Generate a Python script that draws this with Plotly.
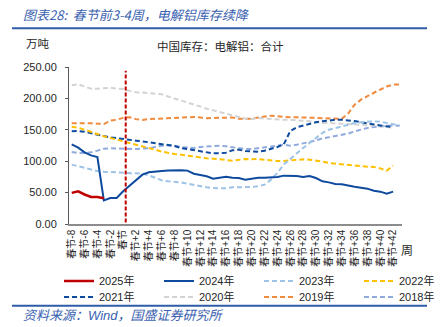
import plotly.graph_objects as go

# Weeks relative to the Spring Festival (0 = 春节 week)
weeks = list(range(-8, 44))
tick_weeks = list(range(-8, 43, 2))
tick_text = ["春节" if w == 0 else f"春节{w:+d}" for w in tick_weeks]

# China electrolytic aluminium inventory, 10k tonnes (万吨)
y2025 = [49.5, 52.0, 47.0, 43.0, 43.0, 41.0]

y2024 = [126.9, 121.5, 114.0, 109.3, 106.7, 37.7, 41.4, 41.4, 52.0, 61.0,
         69.5, 78.6, 82.3, 83.9, 84.4, 85.0, 85.5, 85.5, 85.0, 80.1,
         78.0, 75.9, 72.2, 73.2, 75.4, 73.8, 73.2, 70.6, 72.2, 73.8,
         73.8, 74.3, 74.8, 77.0, 77.0, 76.4, 74.8, 76.4, 73.2, 67.9,
         66.3, 63.7, 63.2, 61.0, 59.4, 57.9, 56.3, 53.0, 51.5, 48.3,
         51.5]

y2023 = [94.5, 91.8, 89.2, 86.5, 84.4, 83.3, 82.8, 82.3, 81.2, 81.2,
         81.2, 80.1, 77.5, 73.2, 69.5, 67.9, 67.4, 66.3, 64.2, 62.1,
         60.0, 58.4, 57.3, 56.8, 56.8, 58.4, 58.4, 58.4, 58.9, 60.0,
         62.6, 70.6, 81.2, 95.0, 104.0, 113.0, 121.0, 129.0, 137.0, 145.0,
         150.0, 153.0, 155.5, 158.0, 160.8, 162.0, 163.0, 163.5, 163.0, 161.0,
         159.0, 157.0]

y2022 = [155.0, 153.4, 150.2, 146.5, 142.8, 139.6, 137.0, 134.3, 132.2, 130.0,
         127.4, 124.7, 121.5, 118.4, 115.2, 113.0, 111.5, 110.4, 108.8, 106.7,
         105.6, 104.6, 104.0, 103.5, 101.9, 100.8, 102.4, 103.5, 103.0, 103.5,
         102.4, 100.8, 100.3, 100.5, 101.4, 102.4, 103.0, 102.4, 101.4, 99.3,
         97.1, 96.0, 95.0, 93.9, 92.9, 91.8, 91.3, 90.8, 88.6, 84.9,
         93.0]

y2021 = [147.6, 148.0, 147.0, 144.4, 142.3, 140.0, 138.0, 136.4, 135.4, 134.3,
         132.7, 131.6, 130.0, 128.5, 126.9, 126.3, 124.2, 121.0, 119.4, 117.8,
         116.2, 114.1, 112.5, 112.5, 113.6, 117.3, 118.4, 116.2, 115.2, 115.2,
         116.8, 119.4, 122.6, 127.0, 148.0, 154.0, 157.0, 159.0, 162.0, 163.5,
         165.0, 166.0, 166.0, 165.5, 164.0, 162.0, 160.0, 158.5, 157.0, 155.5,
         154.0]

y2020 = [221.0, 222.5, 219.0, 215.5, 215.5, 216.6, 217.0, 215.5, 215.0, 212.0,
         209.7, 209.3, 208.6, 208.0, 206.5, 203.0, 200.0, 197.0, 193.7, 190.5,
         187.0, 183.6, 181.0, 178.0, 175.0, 172.5, 170.0, 167.7, 167.0, 169.0,
         167.7, 167.0, 166.0, 166.0, 166.0, 165.5, 164.5, 163.5, 162.4, 160.8,
         160.8, 160.3, 159.8, 159.3, 158.7, 158.0, 157.6, 156.6, 155.5, 154.5,
         153.4]

y2019 = [160.3, 160.5, 161.0, 160.3, 159.8, 159.2, 164.5, 166.0, 169.0, 170.0,
         167.0, 165.6, 167.0, 167.7, 168.3, 168.8, 169.5, 169.5, 170.0, 170.4,
         169.5, 168.3, 168.8, 168.8, 170.0, 169.5, 167.7, 167.0, 167.5, 169.5,
         171.4, 172.5, 171.4, 170.4, 170.0, 170.0, 169.5, 169.0, 168.5, 168.0,
         167.5, 167.0, 167.5, 176.0, 190.0, 198.0, 204.0, 209.0, 214.0, 219.0,
         222.0, 222.0]

y2018 = [114.6, 113.0, 113.0, 114.1, 116.8, 120.0, 120.5, 120.0, 120.0, 119.4,
         119.4, 120.0, 120.5, 122.6, 124.7, 125.3, 124.7, 122.6, 121.5, 121.0,
         122.6, 123.7, 124.7, 124.7, 123.7, 122.0, 120.0, 119.4, 119.4, 120.5,
         122.0, 123.7, 124.7, 126.3, 124.7, 126.3, 128.0, 130.6, 133.2, 136.4,
         138.0, 139.6, 142.3, 144.0, 147.5, 150.5, 153.0, 154.5, 155.5, 156.5,
         157.0, 156.5]

# Week where the Spring Festival divider sits
festival_divider = 0.4

W, H = 442, 327
ML, MR, MT, MB = 69, 40, 67, 103
PW, PH = W - ML - MR, H - MT - MB


def pxx(px):
    return (px - ML) / PW


def pxy(py):
    return (H - MB - py) / PH


LATIN = "Liberation Sans, Arial, Noto Sans CJK SC, sans-serif"
CJK = "Noto Sans CJK SC, sans-serif"
DASH = "5px,3px"

# (label, values, colour, dash, width, legend id, rank); drawn oldest first
series = [
    ("2018年", y2018, "#8FAADC", DASH, 2.0, "legend2", 8),
    ("2019年", y2019, "#F08A3C", DASH, 2.0, "legend2", 7),
    ("2020年", y2020, "#D3D3D3", DASH, 2.0, "legend2", 6),
    ("2021年", y2021, "#0E4A9E", DASH, 2.0, "legend2", 5),
    ("2022年", y2022, "#FFC000", DASH, 2.0, "legend", 4),
    ("2023年", y2023, "#9DC3E6", DASH, 2.0, "legend", 3),
    ("2024年", y2024, "#0E4A9E", "solid", 2.0, "legend", 2),
    ("2025年", y2025, "#C00000", "solid", 2.5, "legend", 1),
]

fig = go.Figure()
for name, vals, color, dash, width, leg, rank in series:
    fig.add_trace(go.Scatter(
        x=weeks[:len(vals)], y=vals, name=name, mode="lines",
        line=dict(color=color, dash=dash, width=width),
        legend=leg, legendrank=rank, hoverinfo="skip",
    ))

fig.add_shape(type="line", xref="x", yref="y",
              x0=festival_divider, x1=festival_divider, y0=2.5, y1=244,
              line=dict(color="#C00000", width=2, dash="4px,2px"))

# Header and footer rules
fig.add_shape(type="line", xref="paper", yref="paper",
              x0=pxx(12), x1=pxx(427), y0=pxy(28.3), y1=pxy(28.3),
              line=dict(color="#2F5CA8", width=2))
fig.add_shape(type="line", xref="paper", yref="paper",
              x0=pxx(12), x1=pxx(427), y0=pxy(305.7), y1=pxy(305.7),
              line=dict(color="#2F5CA8", width=2))

notes = [
    ("<i>图表28:  春节前3-4周，电解铝库存续降</i>", 21, 14.5, "left", 13, "#3A62B0"),
    ("<i>资料来源：Wind，国盛证券研究所</i>", 21, 315.5, "left", 13, "#3A62B0"),
    ("万吨", 24, 43, "left", 11.5, "#262626"),
    ("中国库存：电解铝：合计", 220, 46, "center", 11.5, "#262626"),
    ("周", 407, 249, "center", 12, "#262626"),
]
for text, x, y, anchor, size, color in notes:
    fig.add_annotation(text=text, xref="paper", yref="paper",
                       x=pxx(x), y=pxy(y), xanchor=anchor, yanchor="middle",
                       showarrow=False,
                       font=dict(family=CJK if "Wind" not in text else LATIN,
                                 size=size, color=color))

legend_common = dict(
    orientation="h", xanchor="left", yanchor="middle",
    x=pxx(59), bgcolor="rgba(0,0,0,0)", borderwidth=0,
    font=dict(family=LATIN, size=11, color="#262626"),
    entrywidth=55, entrywidthmode="pixels", traceorder="normal",
    itemclick=False, itemdoubleclick=False,
)

fig.update_layout(
    width=W, height=H,
    margin=dict(l=ML, r=MR, t=MT, b=MB, autoexpand=False),
    paper_bgcolor="white", plot_bgcolor="white",
    showlegend=True,
    legend=dict(legend_common, y=pxy(281)),
    legend2=dict(legend_common, y=pxy(297)),
    xaxis=dict(
        range=[-8.42, 43.38], tickmode="array", tickvals=tick_weeks,
        ticktext=tick_text, tickangle=-90, showgrid=False, zeroline=False,
        showline=True, linecolor="#8C8C8C", linewidth=1.5, ticks="",
        tickfont=dict(family=LATIN, size=10, color="#262626"),
    ),
    yaxis=dict(
        range=[0, 250], tickmode="array", tickvals=[0, 50, 100, 150, 200, 250],
        tickformat=".2f", showgrid=False, zeroline=False,
        showline=True, linecolor="#595959", linewidth=1,
        ticks="outside", ticklen=3, tickcolor="#595959",
        ticklabelstandoff=6,
        tickfont=dict(family=LATIN, size=11, color="#262626"),
    ),
)

fig.write_html("out.html")
